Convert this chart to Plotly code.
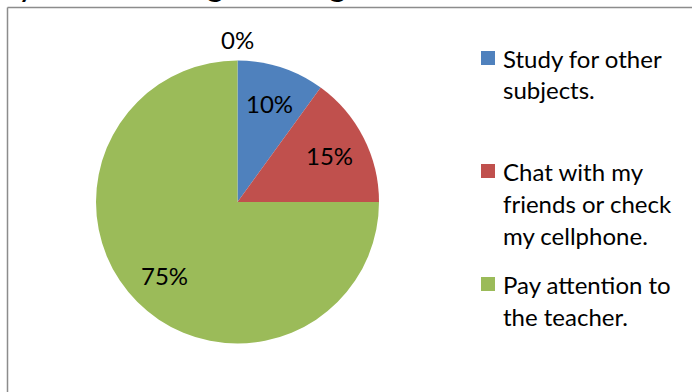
import math
import plotly.graph_objects as go

# Survey answers and their shares (percent)
categories = ["Study for other<br>subjects.",
              "Chat with my<br>friends or check<br>my cellphone.",
              "Pay attention to<br>the teacher.",
              ""]
shares = [10, 15, 75, 0]
colors = ["#4F81BD", "#C0504D", "#9BBB59", "#8064A2"]
question = "What do you do during the English lesson?"

W, H = 692, 392
FONT = "Lato"
TXT = "#000000"

# pie placement in pixels
cx, cy, R = 237.5, 202.0, 141.5


def px(x):
    return x / W


def py(y):
    return 1 - y / H


fig = go.Figure()
fig.add_trace(go.Pie(
    labels=categories,
    values=shares,
    marker=dict(colors=colors, line=dict(width=0)),
    sort=False,
    direction="clockwise",
    rotation=0,
    textinfo="none",
    showlegend=False,
    hoverinfo="label+percent",
    domain=dict(x=[px(cx - R), px(cx + R)], y=[py(cy + R), py(cy - R)]),
))

annotations = []

# percentage labels at each slice's mid-angle (clockwise from 12 o'clock)
total = sum(shares)
start = 0.0
for v in shares:
    mid = (start + v / 2) / total * 2 * math.pi
    start += v
    r = 0.73 * R if v > 0 else R + 21
    annotations.append(dict(
        text=f"{v}%", xref="paper", yref="paper",
        x=px(cx + r * math.sin(mid)), y=py(cy - r * math.cos(mid)),
        xanchor="center", yanchor="middle", showarrow=False,
        font=dict(family=FONT, size=24, color=TXT)))

# legend: colour key plus wrapped labels
legend_x, sq = 481, 14
item_tops = [51, 164, 277]
line_step = 32
shapes = []
for i, (lab, col) in enumerate(zip(categories[:3], colors[:3])):
    top = item_tops[i]
    shapes.append(dict(type="rect", xref="paper", yref="paper",
                       x0=px(legend_x), x1=px(legend_x + sq),
                       y0=py(top + sq), y1=py(top),
                       fillcolor=col, line=dict(width=0)))
    for j, line in enumerate(lab.split("<br>")):
        annotations.append(dict(
            text=line, xref="paper", yref="paper",
            x=px(501), y=py(top + 7 + j * line_step),
            xanchor="left", yanchor="middle", showarrow=False,
            font=dict(family=FONT, size=24, color=TXT)))

# chart frame (continues past the right and bottom edges)
shapes.append(dict(type="line", xref="paper", yref="paper",
                   x0=px(7.5), x1=px(7.5), y0=-0.02, y1=py(7.5),
                   line=dict(color="#8C8C8C", width=1.5)))
shapes.append(dict(type="line", xref="paper", yref="paper",
                   x0=px(7.5), x1=1.02, y0=py(7.5), y1=py(7.5),
                   line=dict(color="#8C8C8C", width=1.5)))

# question text above the frame, mostly scrolled out of view
annotations.append(dict(
    text=question, xref="paper", yref="paper",
    x=px(-122), y=py(4.5), xanchor="left", yanchor="bottom",
    showarrow=False, font=dict(family=FONT, size=34, color=TXT)))

fig.update_layout(
    width=W, height=H,
    margin=dict(l=0, r=0, t=0, b=0),
    paper_bgcolor="white", plot_bgcolor="white",
    shapes=shapes, annotations=annotations,
)

fig.write_html("out.html")
